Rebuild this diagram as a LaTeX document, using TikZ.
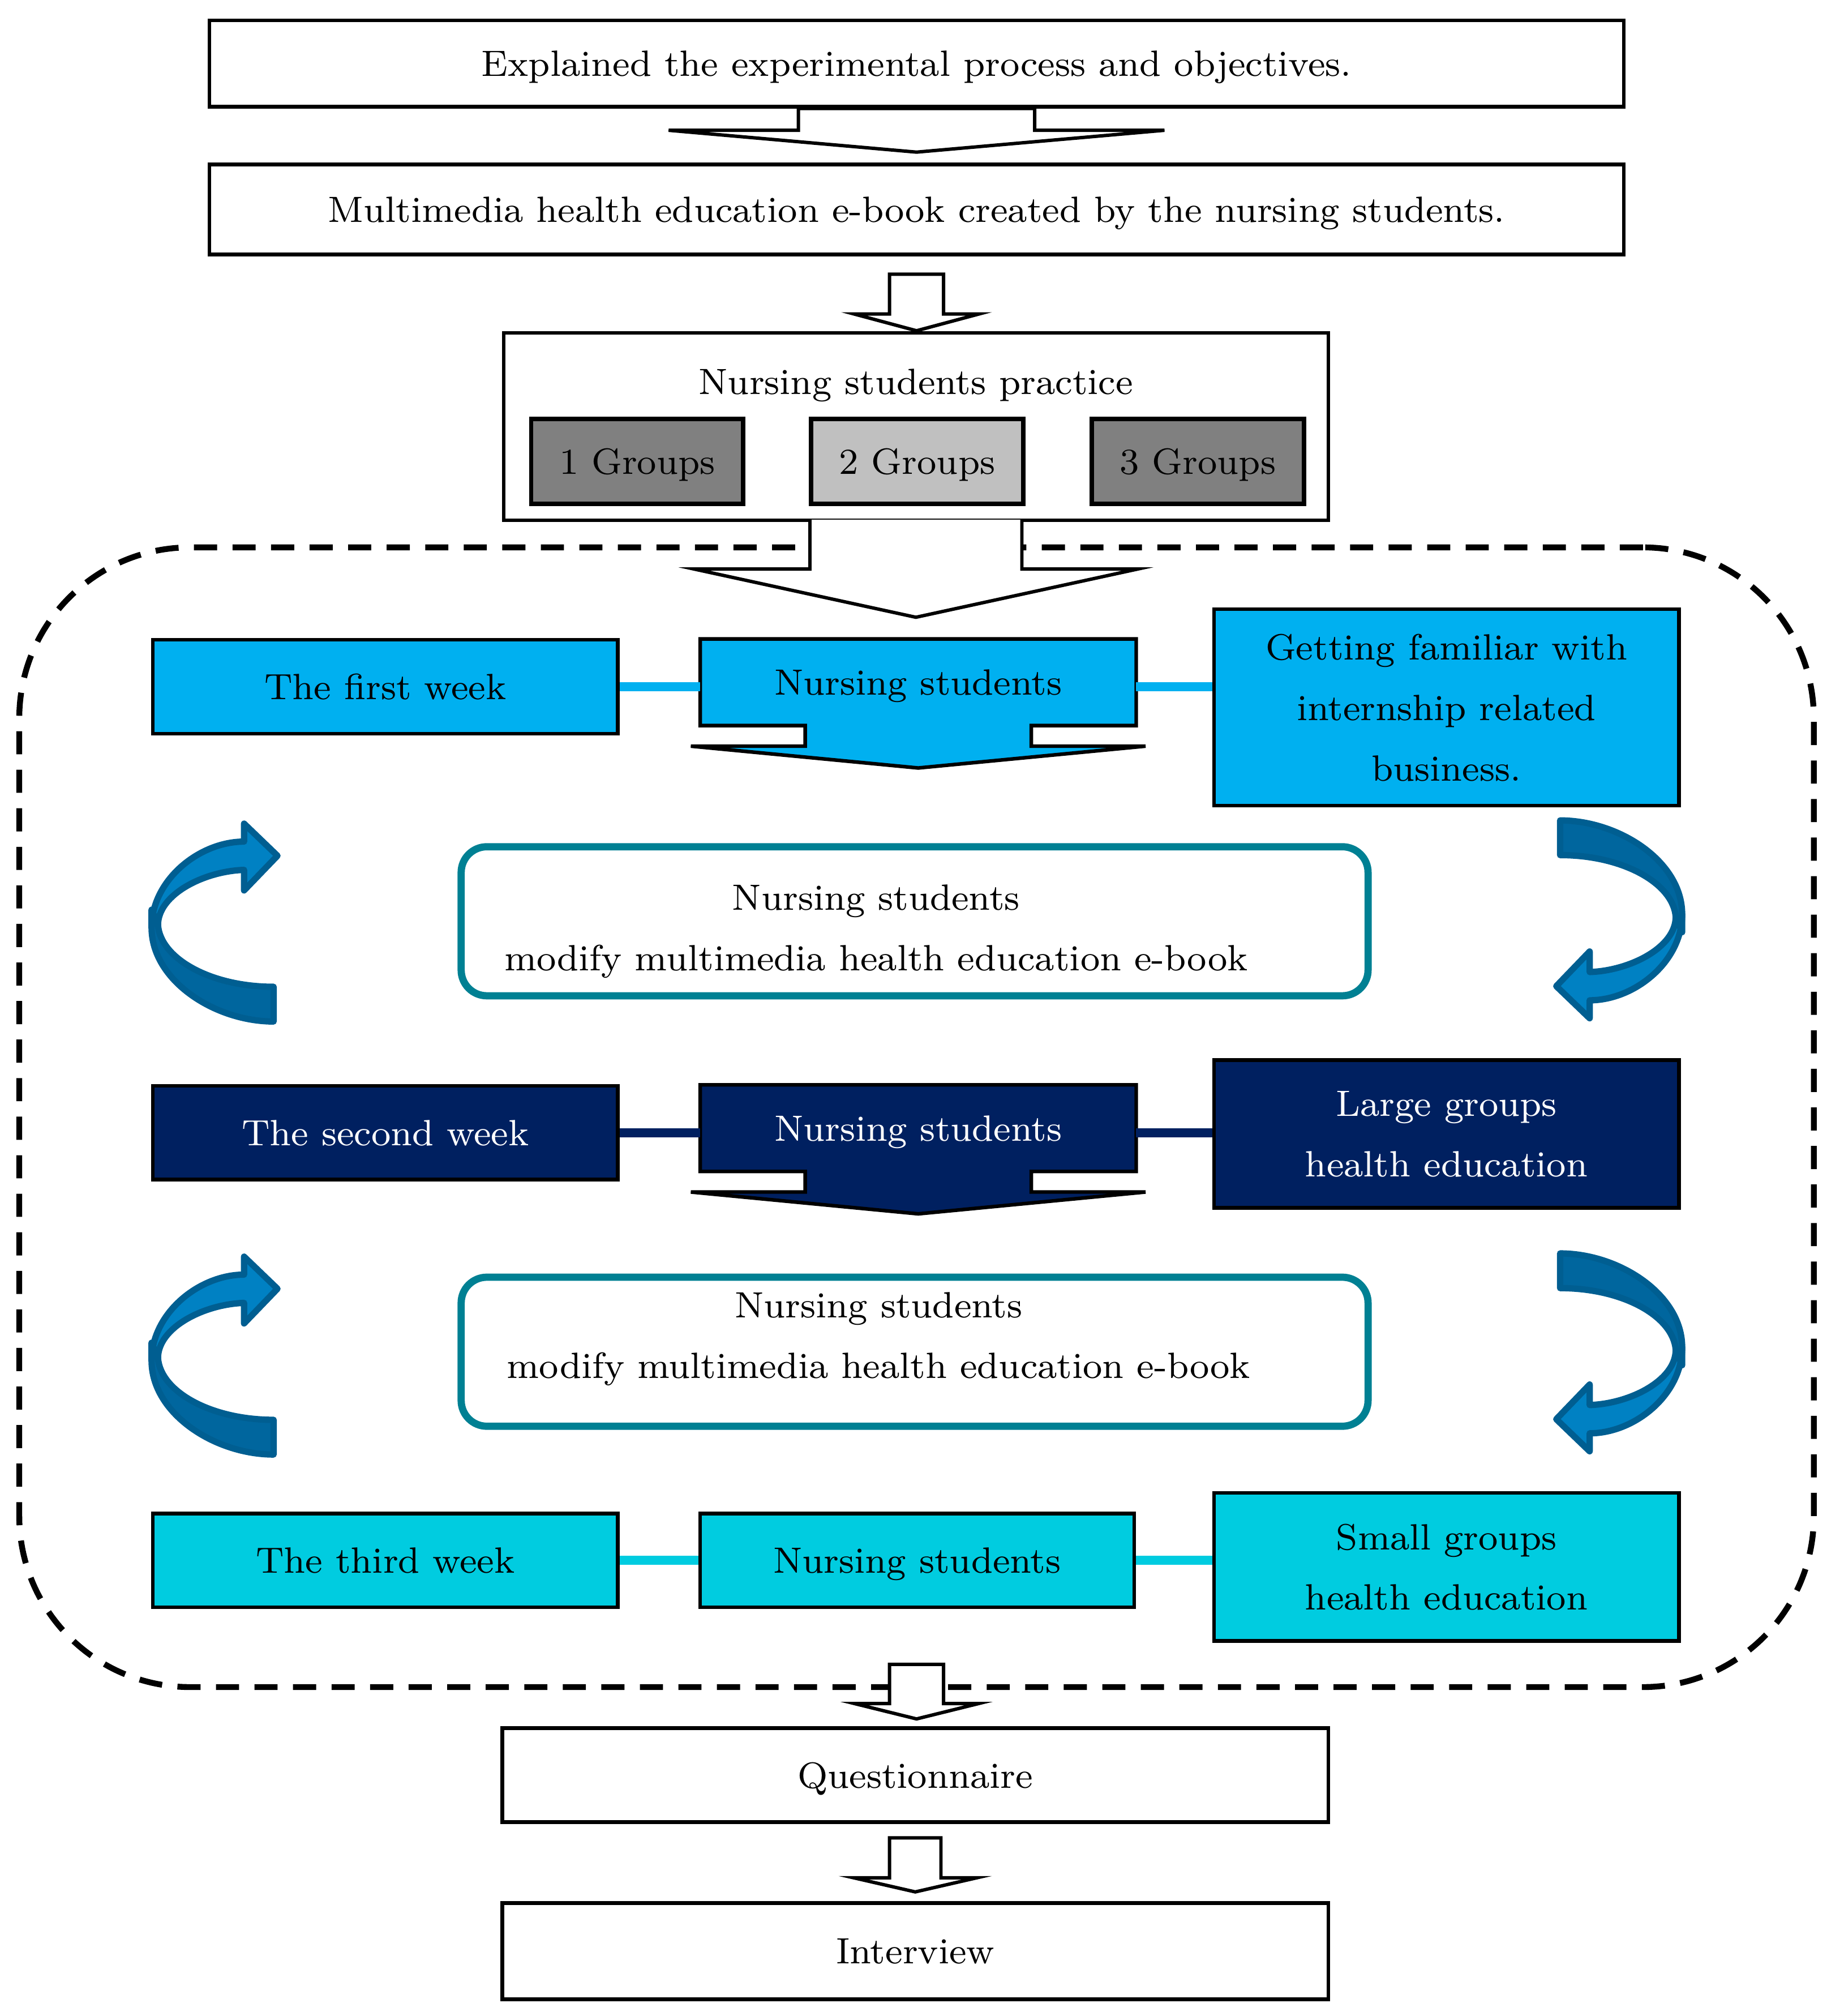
\documentclass[tikz,border=0pt]{standalone}
\usetikzlibrary{calc,backgrounds}
\definecolor{weekone}{HTML}{00B0F0}
\definecolor{weektwo}{HTML}{002060}
\definecolor{weekthree}{HTML}{00CCE0}
\definecolor{tealedge}{HTML}{008093}
\definecolor{arrlight}{HTML}{0081C3}
\definecolor{arrdark}{HTML}{00669E}
\definecolor{arredge}{HTML}{005E91}
\definecolor{grpdark}{HTML}{808080}
\definecolor{grplight}{HTML}{C0C0C0}
% white block arrow below a node: start, top, wings, tip, shaft half, wing half
\newcommand{\blockarrow}[7][-- cycle]{%
	\draw[blockarr] ($#2+(-#6,#3)$) -- ($#2+(-#6,#4)$) -- ($#2+(-#7,#4)$) -- ($#2+(0,#5)$)
	-- ($#2+(#7,#4)$) -- ($#2+(#6,#4)$) -- ($#2+(#6,#3)$) #1;}
% coloured box with a flat arrow under it
\newcommand{\weekarrow}[2]{%
	\draw[fill=#2,line width=0.8pt] (#1.north west) -- (#1.north east) -- (#1.south east)
	-- ($(#1.south)+(88,0)$) -- ($(#1.south)+(88,16)$) -- ($(#1.south)+(177,16)$)
	-- ($(#1.south)+(0,33)$) -- ($(#1.south)+(-177,16)$) -- ($(#1.south)+(-88,16)$)
	-- ($(#1.south)+(-88,0)$) -- (#1.south west) -- cycle;}
\begin{document}
\begin{tikzpicture}[x=0.1mm,y=-0.1mm,line join=miter,font=\fontsize{8.1}{13.4}\selectfont,
	every node/.style={text depth=0pt}]
	\tikzset{plainbox/.style={draw,line width=0.8pt,inner sep=0pt,align=center},
		weekbox/.style={plainbox,minimum width=36.2mm,minimum height=7.3mm},
		sidebox/.style={plainbox,minimum width=36.2mm},
		grpbox/.style={plainbox,line width=1pt,minimum width=16.5mm,minimum height=6.6mm},
		modbox/.style={draw=tealedge,line width=1.6pt,rounded corners=2mm,minimum width=70.6mm,minimum height=11.6mm},
		blockarr/.style={draw,fill=white,line width=0.75pt},
		weekline/.style={line width=2pt},
		arrbody/.style={draw=arredge,line width=1.4pt,line join=round},
		turnarrow/.pic={
			\draw[arrbody,fill=arrlight] (-49,4) .. controls (-49,-33) and (-12,-63) .. (23,-63)
			-- (23,-77) -- (49,-52) -- (23,-25) -- (23,-41) .. controls (-8,-40) and (-44,-22) .. (-44,2) -- cycle;
			\draw[arrbody,fill=arrdark] (-49,-10) -- (-49,4) .. controls (-49,45) and (0,77) .. (46,77)
			-- (46,50) .. controls (-3,50) and (-42,28) .. (-44,2) -- cycle;
		}
	}
	\useasboundingbox (0,0) rectangle (1422,1569);
	\node[plainbox,minimum width=110.1mm,minimum height=6.7mm] (explain) at (713.5,49.5) {Explained the experimental process and objectives.};
	\node[plainbox,minimum width=110.1mm,minimum height=7mm] (ebook) at (713.5,163) {Multimedia health education e-book created by the nursing students.};
	\node[plainbox,minimum width=64.2mm,minimum height=14.6mm] (practice) at (713,332) {};
	\node (practicetitle) at (713,297) {Nursing students practice};
	\foreach \i/\clr/\xx in {1/grpdark/496, 2/grplight/714, 3/grpdark/932.5}{
		\node[grpbox,fill=\clr] (g\i) at (\xx,359) {\i\ Groups};
	}
	\node[draw,line width=1.3pt,dash pattern=on 1.8mm off 1.2mm,rounded corners=13.3mm,
		minimum width=139.7mm,minimum height=88.7mm] (frame) at (713.5,869.5) {};
	\blockarrow{(explain.south)}{0}{17}{34}{92}{193}
	\blockarrow{(ebook.south)}{14}{45}{58}{21}{48.5}
	\blockarrow[]{(practice.south)}{-2}{36.5}{74}{82.5}{172.5}
	% the three weeks
	\node[weekbox,fill=weekone] (wk1) at (300,534.5) {The first week};
	\node[inner sep=0pt,minimum width=33.8mm,minimum height=6.6mm] (ns1) at (714.8,531) {Nursing students};
	\node[sidebox,fill=weekone,minimum height=15.3mm] (rt1) at (1126,550.5) {Getting familiar with\\internship related\\business.};
	\node[weekbox,fill=weektwo,text=white] (wk2) at (300,881.5) {The second week};
	\node[inner sep=0pt,minimum width=33.8mm,minimum height=6.6mm,text=white] (ns2) at (714.8,878) {Nursing students};
	\node[sidebox,fill=weektwo,text=white,minimum height=11.5mm] (rt2) at (1126,882.5) {Large groups\\health education};
	\node[weekbox,fill=weekthree] (wk3) at (300,1214.5) {The third week};
	\node[plainbox,fill=weekthree,minimum width=33.8mm,minimum height=7.3mm] (ns3) at (714,1214.5) {Nursing students};
	\node[sidebox,fill=weekthree,minimum height=11.5mm] (rt3) at (1126,1219.5) {Small groups\\health education};
	\begin{scope}[on background layer]
		\weekarrow{ns1}{weekone}
		\weekarrow{ns2}{weektwo}
	\end{scope}
	\draw[weekline,weekone] (wk1.east) -- (wk1.east -| ns1.west);
	\draw[weekline,weekone] (wk1.east -| ns1.east) -- (wk1.east -| rt1.west);
	\draw[weekline,weektwo] (wk2.east) -- (wk2.east -| ns2.west);
	\draw[weekline,weektwo] (wk2.east -| ns2.east) -- (wk2.east -| rt2.west);
	\draw[weekline,weekthree] (wk3.east) -- (ns3.west);
	\draw[weekline,weekthree] (ns3.east) -- (ns3.east -| rt3.west);
	\node[modbox] (mod1) at (712,717) {};
	\node[align=center] (mod1txt) at (682,722) {Nursing students\\modify multimedia health education e-book};
	\node[modbox] (mod2) at (712,1052) {};
	\node[align=center] (mod2txt) at (684,1039) {Nursing students\\modify multimedia health education e-book};
	\foreach \yy in {718,1055}{
		\pic at (167,\yy) {turnarrow};
		\pic[rotate=180] at (1260.5,\yy-2.5) {turnarrow};
	}
	\node[plainbox,minimum width=64.3mm,minimum height=7.3mm] (quest) at (712.5,1381.5) {Questionnaire};
	\node[plainbox,minimum width=64.3mm,minimum height=7.5mm] (interview) at (712.5,1518.5) {Interview};
	\blockarrow{(frame.south)}{-20}{10.5}{22.5}{21}{48.5}
	\blockarrow{(quest.south)}{11}{42}{53}{20}{48}
\end{tikzpicture}
\end{document}
